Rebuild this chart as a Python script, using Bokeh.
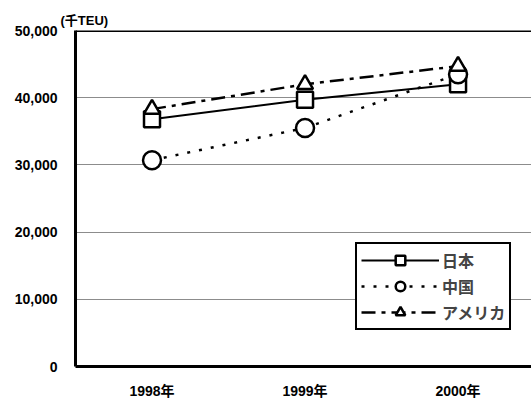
from bokeh.plotting import figure
from bokeh.models import Range1d, FixedTicker, Span, Title, NumeralTickFormatter
from bokeh.embed import file_html
from bokeh.resources import INLINE

years = ["1998年", "1999年", "2000年"]
japan = [36800, 39700, 42000]
china = [30700, 35500, 43500]
usa = [38300, 42000, 44700]
y_ticks = [0, 10000, 20000, 30000, 40000, 50000]
unit_label = "(千TEU)"

x = list(range(len(years)))
FONT = "Liberation Sans, Noto Sans CJK JP"
JFONT = "Noto Sans CJK JP"

p = figure(frame_width=456, frame_height=336, output_backend="svg", toolbar_location=None,
           x_range=Range1d(-0.5, 2.48), y_range=Range1d(0, 50000),
           min_border_left=75, min_border_right=0, min_border_top=30, min_border_bottom=36)
p.outline_line_color = None
p.background_fill_color = "white"
p.border_fill_color = "white"

p.xgrid.grid_line_color = None
p.ygrid.grid_line_color = "#8c8c8c"
p.ygrid.grid_line_width = 1
p.ygrid.ticker = FixedTicker(ticks=y_ticks)

p.yaxis.ticker = FixedTicker(ticks=y_ticks)
p.yaxis.formatter = NumeralTickFormatter(format="0,0")
p.xaxis.ticker = FixedTicker(ticks=x)
p.xaxis.major_label_overrides = {i: s for i, s in zip(x, years)}
for ax in (p.xaxis, p.yaxis):
    ax.axis_line_color = "black"
    ax.axis_line_width = 3
    ax.major_tick_line_color = None
    ax.minor_tick_line_color = None
    ax.major_label_text_font = FONT
    ax.major_label_text_font_style = "bold"
    ax.major_label_text_font_size = "14px"
    ax.major_label_text_color = "black"
p.yaxis.major_label_standoff = 12
p.xaxis.major_label_standoff = 10

p.add_layout(Span(location=50000, dimension="width", line_color="black", line_width=3))

p.line(x, japan, line_color="black", line_width=2, legend_label="日本")
p.scatter(x, japan, marker="square", size=16, fill_color="white", line_color="black",
          line_width=2.5, legend_label="日本")
p.line(x, china, line_color="black", line_width=2.5, line_dash="3 9", legend_label="中国")
p.scatter(x, china, marker="circle", size=18, fill_color="white", line_color="black",
          line_width=2.5, legend_label="中国")
p.line(x, usa, line_color="black", line_width=2.5, line_dash="14 6 4 6", legend_label="アメリカ")
p.scatter(x, usa, marker="triangle", size=16, fill_color="white", line_color="black",
          line_width=2.5, legend_label="アメリカ")

t = Title(text=unit_label, align="left", offset=-15, text_font=FONT,
          text_font_style="bold", text_font_size="13px", text_color="black", standoff=6)
p.add_layout(t, "above")

lg = p.legend[0]
lg.location = (280, 36)
lg.border_line_color = "black"
lg.border_line_alpha = 1
lg.border_line_width = 2.5
lg.background_fill_color = "white"
lg.background_fill_alpha = 1
lg.label_text_font = JFONT
lg.label_text_font_style = "bold"
lg.label_text_font_size = "16px"
lg.glyph_width = 78
lg.glyph_height = 24
lg.label_standoff = 3
lg.spacing = 2
lg.padding = 4
lg.margin = 0

open("out.html", "w").write(file_html(p, INLINE))
